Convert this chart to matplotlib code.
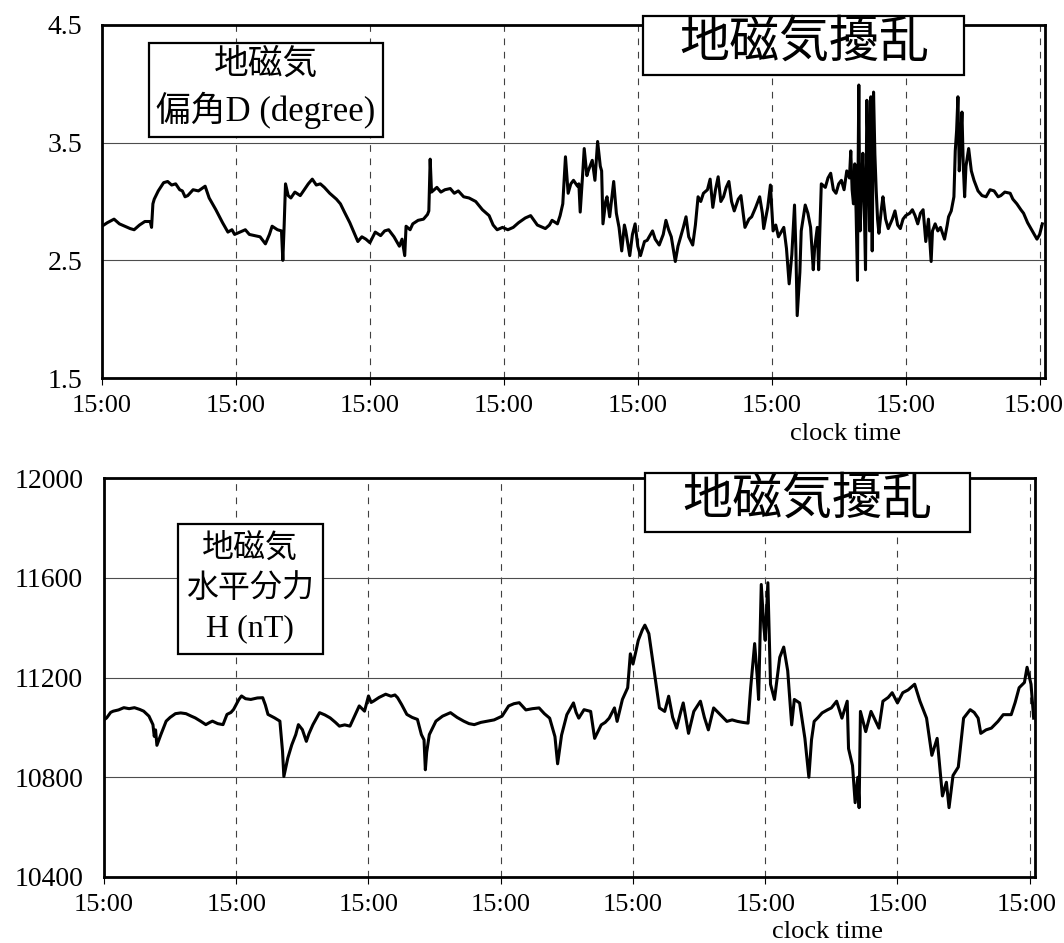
import matplotlib
matplotlib.use("Agg")
import matplotlib.pyplot as plt
from matplotlib.patches import Rectangle
from matplotlib.transforms import ScaledTranslation

plt.rcParams['font.family'] = ['Liberation Serif', 'Noto Sans CJK JP', 'DejaVu Sans']

# Declination D (degree), time in days from the first 15:00
d_days = [0.00, 0.04, 0.09, 0.13, 0.17, 0.21, 0.24, 0.28, 0.32, 0.36, 0.37, 0.38,
          0.39, 0.42, 0.46, 0.49, 0.52, 0.55, 0.58, 0.60, 0.62, 0.64, 0.68, 0.72,
          0.77, 0.80, 0.85, 0.90, 0.94, 0.97, 0.99, 1.03, 1.07, 1.10, 1.14, 1.18,
          1.22, 1.25, 1.27, 1.31, 1.34, 1.35, 1.36, 1.37, 1.39, 1.41, 1.44, 1.48,
          1.51, 1.54, 1.57, 1.60, 1.63, 1.66, 1.70, 1.75, 1.78, 1.81, 1.85, 1.88,
          1.91, 1.94, 1.97, 2.00, 2.04, 2.08, 2.11, 2.14, 2.18, 2.22, 2.24, 2.26,
          2.27, 2.30, 2.32, 2.36, 2.40, 2.43, 2.44, 2.45, 2.46, 2.50, 2.53, 2.56,
          2.60, 2.63, 2.66, 2.70, 2.74, 2.79, 2.84, 2.89, 2.92, 2.95, 2.99, 3.03,
          3.07, 3.11, 3.16, 3.20, 3.25, 3.31, 3.34, 3.36, 3.40, 3.42, 3.44, 3.46,
          3.48, 3.50, 3.52, 3.55, 3.56, 3.57, 3.59, 3.60, 3.62, 3.63, 3.66, 3.68,
          3.70, 3.72, 3.73, 3.74, 3.76, 3.77, 3.79, 3.82, 3.84, 3.86, 3.88, 3.90,
          3.91, 3.94, 3.96, 3.98, 4.00, 4.02, 4.05, 4.07, 4.11, 4.13, 4.16, 4.19,
          4.21, 4.23, 4.25, 4.28, 4.30, 4.32, 4.34, 4.36, 4.38, 4.41, 4.43, 4.45,
          4.47, 4.49, 4.52, 4.54, 4.56, 4.58, 4.60, 4.62, 4.64, 4.66, 4.68, 4.70,
          4.72, 4.75, 4.77, 4.80, 4.83, 4.85, 4.88, 4.91, 4.93, 4.94, 4.97, 4.99,
          5.01, 5.03, 5.05, 5.09, 5.11, 5.13, 5.15, 5.17, 5.18, 5.19, 5.21, 5.22,
          5.25, 5.27, 5.29, 5.31, 5.32, 5.34, 5.35, 5.37, 5.40, 5.42, 5.44, 5.46,
          5.48, 5.50, 5.52, 5.54, 5.56, 5.58, 5.59, 5.60, 5.61, 5.62, 5.63, 5.64,
          5.645, 5.65, 5.655, 5.66, 5.67, 5.68, 5.69, 5.70, 5.705, 5.71, 5.72, 5.73,
          5.735, 5.74, 5.745, 5.75, 5.755, 5.76, 5.77, 5.78, 5.79, 5.80, 5.82, 5.83,
          5.85, 5.87, 5.90, 5.92, 5.94, 5.96, 5.98, 6.00, 6.03, 6.05, 6.07, 6.09,
          6.11, 6.13, 6.15, 6.17, 6.19, 6.20, 6.22, 6.24, 6.26, 6.29, 6.31, 6.32,
          6.34, 6.36, 6.37, 6.38, 6.39, 6.40, 6.41, 6.42, 6.43, 6.44, 6.45, 6.47,
          6.49, 6.51, 6.54, 6.57, 6.60, 6.63, 6.66, 6.69, 6.71, 6.74, 6.78, 6.80,
          6.83, 6.86, 6.88, 6.91, 6.93, 6.96, 6.98, 7.00, 7.02]
d_vals = [2.79, 2.82, 2.85, 2.81, 2.79, 2.77, 2.76, 2.80, 2.83, 2.83, 2.78, 2.98,
          3.02, 3.09, 3.16, 3.17, 3.14, 3.15, 3.10, 3.09, 3.04, 3.05, 3.10, 3.09,
          3.13, 3.03, 2.93, 2.82, 2.74, 2.76, 2.72, 2.74, 2.76, 2.72, 2.71, 2.70,
          2.64, 2.72, 2.79, 2.76, 2.75, 2.50, 2.80, 3.15, 3.05, 3.03, 3.08, 3.05,
          3.10, 3.15, 3.19, 3.14, 3.15, 3.12, 3.07, 3.02, 2.98, 2.91, 2.82, 2.74,
          2.66, 2.70, 2.68, 2.65, 2.74, 2.71, 2.75, 2.76, 2.70, 2.62, 2.68, 2.54,
          2.79, 2.76, 2.81, 2.84, 2.85, 2.89, 2.92, 3.36, 3.08, 3.12, 3.08, 3.10,
          3.11, 3.07, 3.09, 3.04, 3.03, 3.00, 2.93, 2.88, 2.80, 2.76, 2.78, 2.76,
          2.78, 2.82, 2.86, 2.88, 2.80, 2.77, 2.80, 2.84, 2.81, 2.88, 2.98, 3.38,
          3.07, 3.15, 3.18, 3.13, 3.15, 2.91, 3.26, 3.45, 3.22, 3.26, 3.35, 3.18,
          3.51, 3.30, 3.26, 2.81, 3.00, 3.04, 2.87, 3.17, 2.90, 2.78, 2.58, 2.80,
          2.75, 2.54, 2.72, 2.81, 2.62, 2.54, 2.66, 2.67, 2.75, 2.68, 2.63, 2.72,
          2.84, 2.76, 2.70, 2.49, 2.62, 2.70, 2.78, 2.87, 2.70, 2.63, 2.80, 3.04,
          3.00, 3.07, 3.10, 3.19, 2.95, 3.10, 3.21, 3.00, 3.04, 3.12, 3.17, 3.00,
          2.92, 3.02, 3.05, 2.78, 2.85, 2.87, 2.95, 3.04, 2.90, 2.77, 2.95, 3.14,
          2.75, 2.80, 2.70, 2.78, 2.60, 2.30, 2.55, 2.97, 2.60, 2.03, 2.40, 2.75,
          2.97, 2.90, 2.78, 2.42, 2.60, 2.78, 2.42, 3.15, 3.12, 3.20, 3.24, 3.10,
          3.07, 3.15, 3.18, 3.10, 3.26, 3.20, 3.43, 3.10, 2.98, 3.32, 2.90, 2.33,
          3.30, 3.99, 3.20, 2.75, 3.10, 3.41, 3.00, 2.42, 3.20, 3.86, 3.40, 2.75,
          3.40, 3.89, 3.20, 2.58, 3.30, 3.93, 3.40, 3.09, 2.85, 2.73, 2.95, 3.04,
          2.85, 2.77, 2.85, 2.92, 2.80, 2.77, 2.85, 2.88, 2.90, 2.93, 2.88, 2.81,
          2.90, 2.93, 2.66, 2.85, 2.49, 2.75, 2.81, 2.75, 2.78, 2.68, 2.80, 2.87,
          2.92, 3.04, 3.43, 3.60, 3.89, 3.26, 3.50, 3.76, 3.30, 3.04, 3.30, 3.45,
          3.26, 3.18, 3.09, 3.05, 3.04, 3.10, 3.09, 3.04, 3.05, 3.08, 3.07, 3.02,
          2.98, 2.93, 2.90, 2.82, 2.78, 2.72, 2.68, 2.72, 2.81]

# Horizontal component H (nT)
h_days = [0.00, 0.02, 0.05, 0.07, 0.11, 0.15, 0.19, 0.23, 0.27, 0.30, 0.34, 0.37,
          0.38, 0.39, 0.40, 0.43, 0.47, 0.50, 0.54, 0.58, 0.62, 0.66, 0.69, 0.73,
          0.77, 0.80, 0.82, 0.86, 0.90, 0.93, 0.96, 0.98, 1.02, 1.04, 1.07, 1.11,
          1.16, 1.20, 1.22, 1.24, 1.29, 1.33, 1.35, 1.36, 1.39, 1.42, 1.45, 1.47,
          1.50, 1.53, 1.55, 1.58, 1.63, 1.67, 1.71, 1.75, 1.78, 1.82, 1.86, 1.89,
          1.93, 1.97, 2.00, 2.02, 2.04, 2.08, 2.13, 2.17, 2.20, 2.22, 2.25, 2.29,
          2.33, 2.37, 2.40, 2.42, 2.43, 2.44, 2.46, 2.51, 2.56, 2.62, 2.67, 2.72,
          2.76, 2.80, 2.85, 2.90, 2.95, 3.01, 3.06, 3.10, 3.14, 3.19, 3.24, 3.29,
          3.33, 3.37, 3.41, 3.43, 3.46, 3.50, 3.55, 3.57, 3.59, 3.63, 3.68, 3.71,
          3.76, 3.79, 3.82, 3.86, 3.88, 3.92, 3.96, 3.98, 4.00, 4.02, 4.04, 4.07,
          4.09, 4.12, 4.16, 4.20, 4.24, 4.27, 4.30, 4.33, 4.36, 4.38, 4.42, 4.46,
          4.51, 4.54, 4.57, 4.61, 4.66, 4.71, 4.75, 4.79, 4.83, 4.87, 4.89, 4.92,
          4.94, 4.95, 4.97, 4.99, 5.00, 5.02, 5.04, 5.07, 5.11, 5.14, 5.17, 5.20,
          5.22, 5.26, 5.30, 5.33, 5.35, 5.37, 5.40, 5.43, 5.47, 5.50, 5.54, 5.58,
          5.62, 5.63, 5.66, 5.68, 5.70, 5.71, 5.72, 5.76, 5.80, 5.83, 5.86, 5.89,
          5.93, 5.96, 6.00, 6.04, 6.08, 6.13, 6.17, 6.22, 6.26, 6.30, 6.34, 6.37,
          6.39, 6.42, 6.46, 6.50, 6.55, 6.58, 6.61, 6.63, 6.67, 6.71, 6.76, 6.80,
          6.86, 6.89, 6.92, 6.96, 6.98, 7.01, 7.03]
h_vals = [11030, 11038, 11060, 11065, 11070, 11079, 11075, 11079, 11072, 11065, 11045, 11011,
          10964, 10990, 10928, 10971, 11025, 11040, 11055, 11058, 11055, 11045, 11038, 11025,
          11011, 11020, 11025, 11015, 11011, 11052, 11060, 11072, 11112, 11126, 11115, 11112,
          11118, 11119, 11090, 11052, 11038, 11025, 10904, 10803, 10877, 10930, 10971, 11011,
          10991, 10944, 10975, 11011, 11059, 11050, 11038, 11020, 11005, 11010, 11005, 11040,
          11086, 11065, 11126, 11100, 11106, 11120, 11133, 11125, 11130, 11119, 11092, 11052,
          11040, 11032, 10971, 10950, 10830, 10900, 10971, 11025, 11045, 11059, 11040, 11025,
          11015, 11011, 11020, 11025, 11030, 11045, 11086, 11095, 11099, 11070, 11075, 11078,
          11055, 11037, 10963, 10854, 10969, 11051, 11098, 11060, 11037, 11071, 11064, 10956,
          11010, 11020, 11037, 11078, 11024, 11112, 11159, 11295, 11254, 11300, 11349, 11390,
          11410, 11376, 11227, 11078, 11064, 11125, 11040, 10997, 11060, 11098, 10976, 11064,
          11105, 11040, 10990, 11078, 11051, 11024, 11030, 11024, 11020, 11017, 11159, 11336,
          11200, 11112, 11573, 11400, 11349, 11580, 11173, 11112, 11281, 11322, 11227, 11010,
          11112, 11098, 10956, 10800, 10950, 11024, 11040, 11058, 11070, 11078, 11105, 11037,
          11105, 10915, 10847, 10698, 10800, 10678, 11064, 10983, 11064, 11030, 10997, 11105,
          11120, 11139, 11098, 11139, 11150, 11173, 11105, 11037, 10888, 10956, 10725, 10780,
          10678, 10807, 10841, 11037, 11071, 11060, 11037, 10976, 10990, 10997, 11024, 11051,
          11051, 11100, 11159, 11180, 11241, 11173, 11037]

day_ticks = [0, 1, 2, 3, 4, 5, 6, 7]
tick_text = ["15:00"] * len(day_ticks)
d_yticks = [1.5, 2.5, 3.5, 4.5]
h_yticks = [10400, 10800, 11200, 11600, 12000]

W, H = 1064, 943
fig = plt.figure(figsize=(W / 100, H / 100), dpi=100)


def fx(px):
    return px / W


def fy(py):
    return 1 - py / H


def style_axes(ax, yticks, xmax, ypad, last_shift):
    ax.set_xlim(0, xmax)
    ax.set_xticks(day_ticks)
    ax.set_xticklabels(tick_text)
    ax.set_yticks(yticks)
    ax.set_yticklabels([f"{t:g}" for t in yticks])
    ax.set_ylim(yticks[0], yticks[-1])
    ax.xaxis.grid(True, linestyle=(0, (6, 6)), color='0.25', linewidth=0.8)
    ax.yaxis.grid(True, linestyle='-', color='0.3', linewidth=0.8)
    ax.set_axisbelow(True)
    ax.tick_params(axis='x', direction='out', length=5, width=0.8, pad=7,
                   labelsize=19)
    ax.tick_params(axis='y', length=0, pad=ypad, labelsize=20)
    for s in ax.spines.values():
        s.set_linewidth(2.0)
        s.set_color('black')
    # keep the right-most time label inside the figure
    last = ax.get_xticklabels()[-1]
    last.set_transform(last.get_transform()
                       + ScaledTranslation(-last_shift / 100, 0, fig.dpi_scale_trans))


def box(x0, y0, x1, y1, lw=1.6):
    r = Rectangle((fx(x0), fy(y1)), fx(x1) - fx(x0), fy(y0) - fy(y1),
                  transform=fig.transFigure, facecolor='white',
                  edgecolor='black', linewidth=lw, zorder=10)
    fig.add_artist(r)


def label(x, y, s, size):
    fig.text(fx(x), fy(y), s, ha='center', va='center', fontsize=size,
             zorder=11, family=['Liberation Serif', 'Noto Sans CJK JP'])


# Declination panel
ax1 = fig.add_axes([fx(102), fy(378), fx(1045) - fx(102), fy(25) - fy(378)])
style_axes(ax1, d_yticks, 7.04, 14, 6)
ax1.plot(d_days, d_vals, color='black', linewidth=2.2, zorder=3)

# Horizontal component panel
ax2 = fig.add_axes([fx(104), fy(877), fx(1035) - fx(104), fy(478) - fy(877)])
style_axes(ax2, h_yticks, 7.04, 15, 3)
ax2.plot(h_days, h_vals, color='black', linewidth=2.2, zorder=3)

# Labels
box(643, 16, 964, 75)
label(804, 44, "地磁気擾乱", 36)
box(149, 43, 383, 137)
label(266, 65, "地磁気", 25)
label(266, 110, "偏角D (degree)", 25)

box(645, 473, 970, 532)
label(807, 501, "地磁気擾乱", 36)
box(178, 524, 323, 654)
label(250, 549, "地磁気", 23)
label(250, 589, "水平分力", 23)
label(250, 629, "H (nT)", 23)

fig.text(fx(846), fy(434), "clock time", ha='center', va='center', fontsize=19)
fig.text(fx(827), fy(932), "clock time", ha='center', va='center', fontsize=19)

fig.savefig("out.png", dpi=100, facecolor='white')
